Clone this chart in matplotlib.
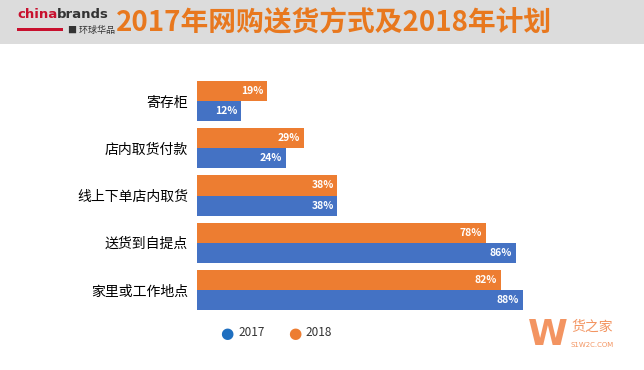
import numpy as np
import matplotlib.pyplot as plt
from matplotlib.patches import Rectangle

plt.rcParams['font.family'] = ['Noto Sans CJK SC', 'DejaVu Sans']

categories = ['寄存柜', '店内取货付款', '线上下单店内取货', '送货到自提点', '家里或工作地点']
v2018 = [19, 29, 38, 78, 82]
v2017 = [12, 24, 38, 86, 88]
years = ['2017', '2018']
title = '2017年网购送货方式及2018年计划'

orange = '#ED7D31'
blue = '#4472C4'

fig = plt.figure(figsize=(6.44, 3.70), dpi=100)
fig.patch.set_facecolor('white')

# grey header band
fig.add_artist(Rectangle((0, 1 - 44/370), 1, 44/370, transform=fig.transFigure,
                         facecolor='#dcdcdc', edgecolor='none', zorder=0))
fig.text(334/644, 1 - 23/370, title, color='#E8781E', fontsize=20, fontweight='bold',
         ha='center', va='center')
# logo
t = fig.text(17/644, 1 - 15/370, 'china', color='#c8102e', fontsize=9.5, fontweight='bold',
             ha='left', va='center', family='DejaVu Sans')
fig.add_artist(plt.matplotlib.text.Annotation('brands', xy=(1, 0.5), xycoords=t,
               color='#333333', fontsize=9.5, fontweight='bold', ha='left', va='center',
               family='DejaVu Sans'))
fig.add_artist(Rectangle((17/644, 1 - 31/370), 46/644, 3/370, transform=fig.transFigure,
                         facecolor='#c8102e', edgecolor='none'))
fig.text(68/644, 1 - 30/370, '■ 环球华品', color='#333333', fontsize=6.5,
         ha='left', va='center')

ax = fig.add_axes([196.5/644, 1 - 313.6/370, 371/644, (313.6 - 77.4)/370])
y = np.arange(len(categories))
h = 0.425
ax.barh(y - h/2, v2018, height=h, color=orange)
ax.barh(y + h/2, v2017, height=h, color=blue)
for i in range(len(categories)):
    ax.text(v2018[i] - 1, y[i] - h/2, f'{v2018[i]}%', color='white', fontsize=7.5,
            fontweight='bold', ha='right', va='center')
    ax.text(v2017[i] - 1, y[i] + h/2, f'{v2017[i]}%', color='white', fontsize=7.5,
            fontweight='bold', ha='right', va='center')
ax.set_xlim(0, 100)
ax.set_ylim(4.5, -0.5)
ax.set_yticks(y)
ax.set_yticklabels(categories, fontsize=10)
ax.tick_params(axis='y', length=0, pad=6)
ax.set_xticks([])
for s in ax.spines.values():
    s.set_visible(False)

# legend
ly = 1 - 333/370
fig.text(220/644, ly, '●', color='#1f6fc0', fontsize=11, ha='left', va='center', family='DejaVu Sans')
fig.text(238/644, ly, years[0], color='#333333', fontsize=8.5, ha='left', va='center')
fig.text(288/644, ly, '●', color=orange, fontsize=11, ha='left', va='center', family='DejaVu Sans')
fig.text(305/644, ly, years[1], color='#333333', fontsize=8.5, ha='left', va='center')

# watermark
fig.text(548/644, 1 - 335/370, 'W', color='#f07a3a', fontsize=26, fontweight='bold',
         ha='center', va='center', alpha=0.8, family='DejaVu Sans')
fig.text(592/644, 1 - 327/370, '货之家', color='#f07a3a', fontsize=10, ha='center',
         va='center', alpha=0.8)
fig.text(592/644, 1 - 345/370, 'S1W2C.COM', color='#f07a3a', fontsize=5, ha='center',
         va='center', alpha=0.8, family='DejaVu Sans')

fig.savefig('out.png', dpi=100)
